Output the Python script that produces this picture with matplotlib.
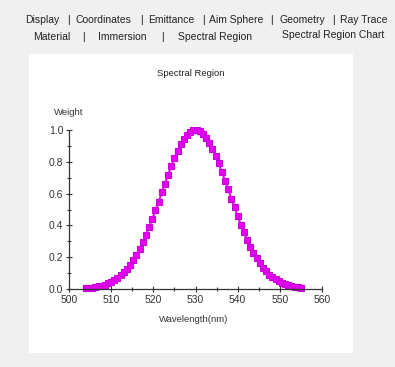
import matplotlib.pyplot as plt
from matplotlib.patches import Rectangle
from matplotlib.ticker import MultipleLocator

# Spectral weighting curve, 0.75 nm sampling
wavelength = [
    504.00, 504.75, 505.50, 506.25, 507.00, 507.75, 508.50, 509.25, 510.00,
    510.75, 511.50, 512.25, 513.00, 513.75, 514.50, 515.25, 516.00, 516.75,
    517.50, 518.25, 519.00, 519.75, 520.50, 521.25, 522.00, 522.75, 523.50,
    524.25, 525.00, 525.75, 526.50, 527.25, 528.00, 528.75, 529.50, 530.25,
    531.00, 531.75, 532.50, 533.25, 534.00, 534.75, 535.50, 536.25, 537.00,
    537.75, 538.50, 539.25, 540.00, 540.75, 541.50, 542.25, 543.00, 543.75,
    544.50, 545.25, 546.00, 546.75, 547.50, 548.25, 549.00, 549.75, 550.50,
    551.25, 552.00, 552.75, 553.50, 554.25, 555.00,
]
weight = [
    0.005, 0.007, 0.009, 0.012, 0.016, 0.021, 0.027, 0.035, 0.044,
    0.055, 0.069, 0.085, 0.105, 0.127, 0.153, 0.183, 0.216, 0.254,
    0.295, 0.340, 0.389, 0.440, 0.494, 0.550, 0.607, 0.663, 0.719,
    0.772, 0.823, 0.868, 0.909, 0.943, 0.969, 0.988, 0.998, 1.000,
    0.992, 0.976, 0.952, 0.921, 0.883, 0.838, 0.790, 0.737, 0.682,
    0.626, 0.569, 0.513, 0.458, 0.405, 0.356, 0.310, 0.267, 0.228,
    0.194, 0.163, 0.135, 0.112, 0.091, 0.074, 0.060, 0.048, 0.038,
    0.029, 0.023, 0.018, 0.013, 0.010, 0.008,
]

x_ticks = [500, 510, 520, 530, 540, 550, 560]
y_ticks = [0.0, 0.2, 0.4, 0.6, 0.8, 1.0]

# tab strip: (label, x pixel)
tabs_row1 = [("Display", 25), ("|", 67), ("Coordinates", 76), ("|", 140),
             ("Emittance", 148), ("|", 202), ("Aim Sphere", 209), ("|", 270),
             ("Geometry", 279), ("|", 332), ("Ray Trace", 340)]
tabs_row2 = [("Material", 33), ("|", 82), ("Immersion", 98), ("|", 161),
             ("Spectral Region", 178)]

W, H = 395, 367
fig = plt.figure(figsize=(W / 100, H / 100), dpi=100)
fig.patch.set_facecolor("#f0f0f0")

ui_font = ["Liberation Sans Narrow", "Liberation Sans", "DejaVu Sans"]

for label, px in tabs_row1:
    fig.text(px / W, 1 - 20 / H, label, ha="left", va="center",
             fontsize=7.5, family=ui_font, color="#222222")
for label, px in tabs_row2:
    fig.text(px / W, 1 - 37 / H, label, ha="left", va="center",
             fontsize=7.5, family=ui_font, color="#222222")
fig.text(282 / W, 1 - 35 / H, "Spectral Region Chart", ha="left", va="center",
         fontsize=7.5, family=ui_font, color="#222222")

# white chart panel
fig.patches.append(Rectangle((29 / W, 1 - 353 / H), (353 - 29) / W, (353 - 54) / H,
                             transform=fig.transFigure, facecolor="white",
                             edgecolor="none", zorder=-5))

ax = fig.add_axes([69 / W, 1 - 289 / H, (322 - 69) / W, (289 - 130) / H])
ax.set_zorder(2)
ax.set_facecolor("none")
ax.plot(wavelength, weight, color="#f000f0", lw=1.4, marker="s", ms=3.9,
        mec="#cc00dd", mfc="#e400f0", mew=0.8, clip_on=False)

ax.set_xlim(500, 560)
ax.set_ylim(0, 1.0)
ax.set_xticks(x_ticks)
ax.set_yticks(y_ticks)
ax.xaxis.set_minor_locator(MultipleLocator(5))
ax.yaxis.set_minor_locator(MultipleLocator(0.1))
ax.set_xticklabels([str(v) for v in x_ticks])
ax.set_yticklabels([f"{v:.1f}" for v in y_ticks])
for spine in ("top", "right"):
    ax.spines[spine].set_visible(False)
for spine in ("left", "bottom"):
    ax.spines[spine].set_color("#333333")
    ax.spines[spine].set_linewidth(0.9)
ax.tick_params(which="both", direction="inout", color="#333333", width=0.8,
               labelsize=7.5, labelcolor="#333333", pad=2)
ax.tick_params(which="major", length=4)
ax.tick_params(which="minor", length=3)
for lbl in ax.get_xticklabels() + ax.get_yticklabels():
    lbl.set_family(ui_font)

fig.text(191 / W, 1 - 74 / H, "Spectral Region", ha="center", va="center",
         fontsize=6.8, family=ui_font, color="#222222")
fig.text(69 / W, 1 - 112 / H, "Weight", ha="center", va="center",
         fontsize=6.8, family=ui_font, color="#333333")
fig.text(194 / W, 1 - 320 / H, "Wavelength(nm)", ha="center", va="center",
         fontsize=6.8, family=ui_font, color="#333333")

fig.savefig("out.png", dpi=100)
